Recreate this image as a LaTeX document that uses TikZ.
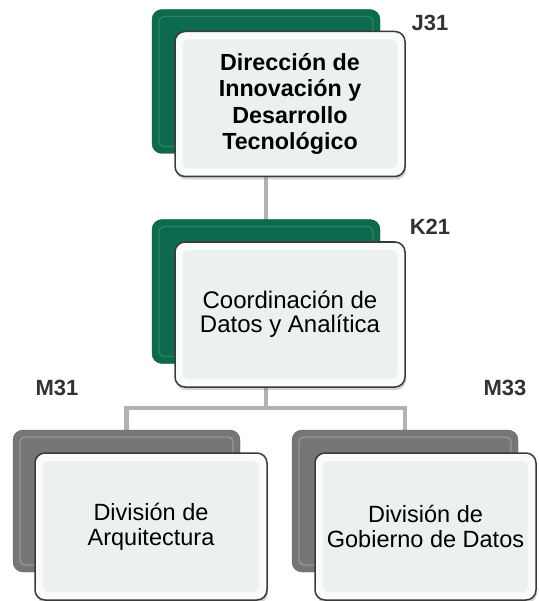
\documentclass[tikz,border=0pt]{standalone}
\usepackage{fontspec}
\setmainfont{Liberation Sans}
\usetikzlibrary{positioning,shadows,backgrounds,calc}
\definecolor{orggreen}{HTML}{0D6A4E}
\definecolor{orggreenlt}{HTML}{2A8565}
\definecolor{orggrey}{HTML}{767676}
\definecolor{orggreylt}{HTML}{969696}
\definecolor{orgedge}{HTML}{3A3A3A}
\definecolor{orgface}{HTML}{ECF1EF}
\definecolor{orgrim}{HTML}{FAFBFB}
\definecolor{orgline}{HTML}{B2B2B2}
\definecolor{orgtag}{HTML}{2F3336}
\tikzset{
  backbox/.style={rounded corners=10pt,inner sep=0pt,minimum width=228pt,minimum height=144pt},
  backgreen/.style={backbox,fill=orggreen,draw=orggreen!85!black,
    path picture={\draw[orggreenlt,line width=1.4pt,rounded corners=5pt]
      ([shift={(7pt,-7pt)}]path picture bounding box.north west) rectangle
      ([shift={(-7pt,7pt)}]path picture bounding box.south east);}},
  backgrey/.style={backbox,fill=orggrey,draw=orggrey!85!black,
    path picture={\draw[orggreylt,line width=1.4pt,rounded corners=5pt]
      ([shift={(7pt,-7pt)}]path picture bounding box.north west) rectangle
      ([shift={(-7pt,7pt)}]path picture bounding box.south east);}},
  frontbox/.style={draw=orgedge,line width=1.5pt,fill=orgrim,rounded corners=10pt,
    minimum width=230pt,minimum height=145pt,inner sep=2pt,align=center,
    drop shadow={shadow xshift=1pt,shadow yshift=-3pt,opacity=0.35},
    path picture={\fill[orgface,rounded corners=6pt]
      ([shift={(8pt,-8pt)}]path picture bounding box.north west) rectangle
      ([shift={(-8pt,8pt)}]path picture bounding box.south east);}},
  tag/.style={font=\bfseries\fontsize{22}{24}\selectfont,text=orgtag,inner sep=0pt},
  link/.style={orgline,line width=4.5pt},
}
\begin{document}
\begin{tikzpicture}[x=1pt,y=-1pt]
  \useasboundingbox (0,0) rectangle (538,601);
  % level 1
  \node[backgreen] (j31back) at (266,81.5) {};
  \node[frontbox,font=\bfseries\fontsize{23.3}{26.5}\selectfont] (j31) at (290,104)
    {Dirección de\\Innovación y\\Desarrollo\\Tecnológico};
  \node[tag] (j31tag) at (430,23) {J31};
  % level 2
  \node[backgreen] (k21back) at (266,291.5) {};
  \node[frontbox,font=\fontsize{24}{24}\selectfont] (k21) at (290,314.5)
    {Coordinación de\\Datos y Analítica};
  \node[tag] (k21tag) at (430,227) {K21};
  % level 3
  \node[backgrey,minimum width=227pt,minimum height=142pt] (m31back) at (126.5,501) {};
  \node[frontbox,minimum width=232pt,minimum height=147pt,font=\fontsize{23.5}{25}\selectfont]
    (m31) at (151,526.5) {División de\\Arquitectura};
  \node[tag] (m31tag) at (57,388) {M31};
  \node[backgrey,minimum width=226pt,minimum height=142pt] (m33back) at (405,501) {};
  \node[frontbox,minimum width=221pt,minimum height=147pt,font=\fontsize{23.5}{25}\selectfont]
    (m33) at (425.5,526.5) {División de\\Gobierno de Datos};
  \node[tag] (m33tag) at (505,388) {M33};
  % connectors behind the boxes
  \coordinate (bus) at (0,408);
  \begin{scope}[on background layer]
    \draw[link] (j31back.center) -- (k21back.center);
    \draw[link] (k21back.center) -- (k21back |- bus) -| (m31back.center);
    \draw[link] (k21back |- bus) -| (m33back.center);
  \end{scope}
\end{tikzpicture}
\end{document}
